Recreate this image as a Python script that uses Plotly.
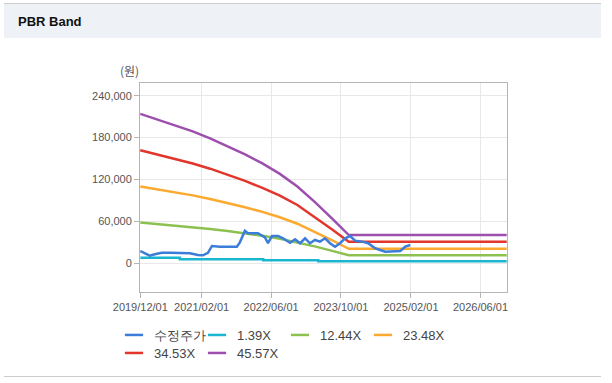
import plotly.graph_objects as go

# ---- data ----
price_dates = ["2019-12-01", "2019-12-20", "2020-01-10", "2020-02-05", "2020-03-11", "2020-04-29",
               "2020-06-24", "2020-08-19", "2020-09-16", "2020-11-11", "2021-01-06", "2021-02-10",
               "2021-03-17", "2021-04-14", "2021-06-09", "2021-10-05", "2021-10-26", "2021-11-30",
               "2021-12-21", "2022-03-01", "2022-04-19", "2022-05-10", "2022-06-07", "2022-07-19",
               "2022-08-23", "2022-10-11", "2022-11-15", "2022-12-20", "2023-01-24", "2023-02-27",
               "2023-04-03", "2023-05-08", "2023-06-12", "2023-07-17", "2023-08-21", "2023-09-25",
               "2023-10-30", "2023-12-04", "2024-01-08", "2024-02-26", "2024-04-08", "2024-05-27",
               "2024-08-05", "2024-10-14", "2024-11-18", "2024-12-23", "2025-01-27"]
price_vals = [17600, 16000, 13500, 10900, 12900, 15200,
              15000, 14300, 15000, 14300, 11900, 11500,
              15000, 24800, 23800, 23800, 30000, 46500,
              43000, 43000, 37000, 29000, 39000, 39000,
              35800, 29500, 34400, 28700, 35800, 28700,
              33400, 31000, 35800, 28700, 23800, 28700,
              35800, 39000, 32400, 31000, 28700, 21500,
              16600, 16600, 17600, 23800, 26200]

band_dates = ["2019-12-01", "2020-04-01", "2020-08-01", "2020-12-01", "2021-04-01", "2021-08-01",
              "2021-12-01", "2022-04-01", "2022-08-01", "2022-12-01", "2023-04-01", "2023-08-01",
              "2023-11-25", "2026-12-01"]
band_45_57 = [214000, 206000, 198000, 189000, 179000, 168000, 156000, 143000, 128000, 110000,
              88000, 64000, 40500, 40500]
band_34_53 = [162000, 156000, 150000, 143000, 135500, 127000, 118000, 108000, 97000, 83500,
              66500, 48500, 31000, 31000]
band_23_48 = [110000, 106000, 102000, 97300, 92200, 86500, 80300, 73600, 66000, 56700,
              45300, 33000, 20800, 20800]
band_12_44 = [58500, 56300, 54100, 51700, 49000, 46200, 43000, 39400, 35200, 30200,
              24200, 17800, 11500, 11500]

cyan_dates = ["2019-12-01", "2020-09-02", "2020-09-02", "2022-04-07", "2022-04-07", "2023-04-26",
              "2023-04-26", "2026-12-01"]
band_1_39 = [7800, 7800, 5800, 5800, 4500, 4500, 2900, 2900]

series_names = ["수정주가", "1.39X", "12.44X", "23.48X", "34.53X", "45.57X"]
series_colors = ["#3b7dd8", "#1ab6cf", "#8cc152", "#fba92f", "#e2352b", "#9d4fae"]

x_tickvals = ["2019-12-01", "2021-02-01", "2022-06-01", "2023-10-01", "2025-02-01", "2026-06-01"]
x_ticktext = ["2019/12/01", "2021/02/01", "2022/06/01", "2023/10/01", "2025/02/01", "2026/06/01"]
y_tickvals = [0, 60000, 120000, 180000, 240000]

# ---- figure ----
fig = go.Figure()
series = [
    (cyan_dates, band_1_39, 1),
    (band_dates, band_12_44, 2),
    (band_dates, band_23_48, 3),
    (band_dates, band_34_53, 4),
    (band_dates, band_45_57, 5),
    (price_dates, price_vals, 0),
]
for xs, ys, idx in series:
    fig.add_trace(go.Scatter(x=xs, y=ys, mode="lines", name=series_names[idx],
                             line=dict(color=series_colors[idx], width=2.5),
                             showlegend=False, legendgroup=series_names[idx]))

# legend entries with short line symbols (two rows, like the original)
for idx, name in enumerate(series_names):
    fig.add_trace(go.Scatter(x=[None], y=[None], mode="markers", name=name,
                             legendgroup=name, legendrank=idx,
                             legend="legend" if idx < 4 else "legend2",
                             marker=dict(symbol="line-ew", size=13,
                                         line=dict(color=series_colors[idx], width=2.5))))

# pixel helpers for decorations (plot area: x 140..507, y 83..292)
L, R, T, B = 140, 507, 83, 292
def px(x):
    return (x - L) / (R - L)
def py(y):
    return (B - y) / (B - T)

font_main = "Liberation Sans, Arial, sans-serif"
legend_common = dict(orientation="h", xanchor="left", yanchor="top",
                     entrywidth=38, entrywidthmode="pixels", bgcolor="rgba(0,0,0,0)",
                     font=dict(size=13, color="#444444"), traceorder="normal",
                     itemwidth=30, tracegroupgap=0, borderwidth=0)

fig.update_layout(
    width=612, height=383,
    margin=dict(l=L, r=612 - R, t=T, b=383 - B, autoexpand=False),
    paper_bgcolor="white", plot_bgcolor="white",
    font=dict(family=font_main, size=11, color="#555555"),
    xaxis=dict(type="date", range=["2019-11-29", "2026-12-03"],
               tickvals=x_tickvals, ticktext=x_ticktext,
               showgrid=True, gridcolor="#e8e8e8", gridwidth=1,
               showline=True, linecolor="#b5b5b5", linewidth=1, mirror=True,
               ticks="outside", ticklen=5, tickcolor="#b5b5b5",
               tickfont=dict(size=11, color="#555555")),
    yaxis=dict(range=[-41100, 258200], tickvals=y_tickvals, tickformat=",",
               showgrid=True, gridcolor="#e8e8e8", gridwidth=1, zeroline=False,
               showline=True, linecolor="#b5b5b5", linewidth=1, mirror=True,
               ticks="outside", ticklen=5, tickcolor="#b5b5b5",
               tickfont=dict(size=11, color="#555555")),
    legend=dict(x=px(114), y=py(320), **legend_common),
    legend2=dict(x=px(114), y=py(338), **legend_common),
    showlegend=True,
)

# header band and frame lines
fig.add_shape(type="rect", xref="paper", yref="paper",
              x0=px(4), x1=px(601), y0=py(38), y1=py(4),
              fillcolor="#eef1f6", line=dict(width=0), layer="below")
fig.add_shape(type="line", xref="paper", yref="paper",
              x0=px(4), x1=px(601), y0=py(3.5), y1=py(3.5),
              line=dict(color="#cccccc", width=1))
fig.add_shape(type="line", xref="paper", yref="paper",
              x0=px(4), x1=px(601), y0=py(376.5), y1=py(376.5),
              line=dict(color="#cccccc", width=1))

fig.add_annotation(text="<b>PBR Band</b>", xref="paper", yref="paper",
                   x=px(16), y=py(21), xanchor="left", yanchor="middle",
                   showarrow=False, font=dict(family=font_main, size=13, color="#111111"))
fig.add_annotation(text="(원)", xref="paper", yref="paper",
                   x=px(129), y=py(70), xanchor="center", yanchor="middle",
                   showarrow=False, font=dict(family="Noto Sans CJK KR, sans-serif", size=12, color="#555555"))

fig.write_html("out.html", config={"displayModeBar": False},
               post_script="document.body.style.margin='0';document.body.style.padding='0';")
